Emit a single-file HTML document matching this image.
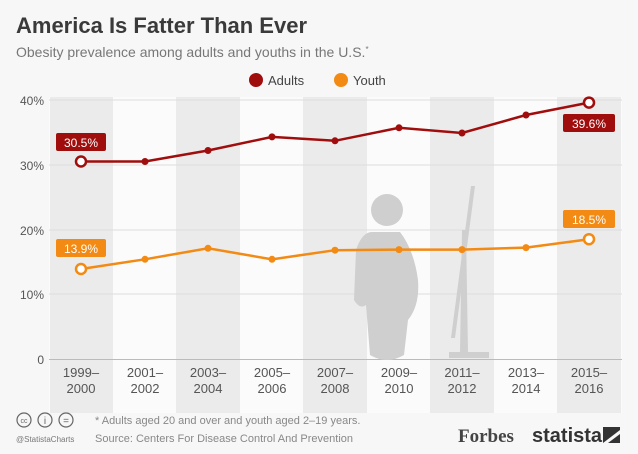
<!DOCTYPE html>
<html><head><meta charset="utf-8"><style>
html,body{margin:0;padding:0;background:#f7f7f7;}
svg{display:block;font-family:"Liberation Sans",sans-serif;}
</style></head><body>
<svg width="638" height="454" viewBox="0 0 638 454">
<rect width="638" height="454" fill="#f7f7f7"/>
<text x="16" y="33" font-size="22" font-weight="bold" fill="#3a3a3a">America Is Fatter Than Ever</text>
<text x="16" y="57" font-size="14" fill="#777">Obesity prevalence among adults and youths in the U.S.<tspan font-size="8" dy="-5">*</tspan></text>
<circle cx="256" cy="80" r="7" fill="#a00d0d"/><text x="268" y="85" font-size="13" fill="#444">Adults</text>
<circle cx="341" cy="80" r="7" fill="#f28a13"/><text x="353" y="85" font-size="13" fill="#444">Youth</text>
<!-- columns -->
<g fill="#fbfbfb"><rect x="49" y="97" width="573" height="316"/></g>
<g fill="#ebebeb">
<rect x="50" y="97" width="63" height="316"/><rect x="176" y="97" width="64" height="316"/>
<rect x="303" y="97" width="64" height="316"/><rect x="430" y="97" width="64" height="316"/>
<rect x="557" y="97" width="64" height="316"/></g>
<g stroke="#dedede" stroke-width="1">
<line x1="49" y1="100" x2="622" y2="100"/><line x1="49" y1="165" x2="622" y2="165"/>
<line x1="49" y1="230" x2="622" y2="230"/><line x1="49" y1="294" x2="622" y2="294"/></g>
<line x1="49" y1="359.5" x2="622" y2="359.5" stroke="#bbb"/>
<!-- figure -->
<g fill="#cfcfcf">
<circle cx="387" cy="210" r="16"/>
<path d="M372 232 Q362 232 356 250 L354 300 Q360 310 366 305 L370 355 Q387 365 404 355 L408 320 Q420 305 418 280 Q414 250 400 232 Z"/>
<polygon points="471,186 475,186 455,338 451,338"/>
<polygon points="462,230 466,230 468,352 460,352"/>
<rect x="449" y="352" width="40" height="6"/>
</g>
<g fill="#555" font-size="12" text-anchor="end">
<text x="44" y="105">40%</text><text x="44" y="170">30%</text><text x="44" y="235">20%</text><text x="44" y="299">10%</text><text x="44" y="364">0</text></g>
<g fill="#555" font-size="13" text-anchor="middle">
<text x="81" y="377">1999–</text><text x="81" y="393">2000</text>
<text x="145" y="377">2001–</text><text x="145" y="393">2002</text>
<text x="208" y="377">2003–</text><text x="208" y="393">2004</text>
<text x="272" y="377">2005–</text><text x="272" y="393">2006</text>
<text x="335" y="377">2007–</text><text x="335" y="393">2008</text>
<text x="399" y="377">2009–</text><text x="399" y="393">2010</text>
<text x="462" y="377">2011–</text><text x="462" y="393">2012</text>
<text x="526" y="377">2013–</text><text x="526" y="393">2014</text>
<text x="589" y="377">2015–</text><text x="589" y="393">2016</text></g>
<polyline fill="none" stroke="#a00d0d" stroke-width="2.5" points="81,161.5 145,161.5 208,150.5 272,136.9 335,140.8 399,127.8 462,133 526,115 589,102.6"/>
<polyline fill="none" stroke="#f28a13" stroke-width="2.5" points="81,269 145,259.3 208,248.3 272,259.3 335,250.2 399,249.6 462,249.6 526,247.6 589,239.2"/>
<g fill="#a00d0d"><circle cx="145" cy="161.5" r="3.5"/><circle cx="208" cy="150.5" r="3.5"/><circle cx="272" cy="136.9" r="3.5"/><circle cx="335" cy="140.8" r="3.5"/><circle cx="399" cy="127.8" r="3.5"/><circle cx="462" cy="133" r="3.5"/><circle cx="526" cy="115" r="3.5"/></g>
<g fill="#f28a13"><circle cx="145" cy="259.3" r="3.5"/><circle cx="208" cy="248.3" r="3.5"/><circle cx="272" cy="259.3" r="3.5"/><circle cx="335" cy="250.2" r="3.5"/><circle cx="399" cy="249.6" r="3.5"/><circle cx="462" cy="249.6" r="3.5"/><circle cx="526" cy="247.6" r="3.5"/></g>
<circle cx="81" cy="161.5" r="5" fill="#fff" stroke="#a00d0d" stroke-width="2.5"/>
<circle cx="589" cy="102.6" r="5" fill="#fff" stroke="#a00d0d" stroke-width="2.5"/>
<circle cx="81" cy="269" r="5" fill="#fff" stroke="#f28a13" stroke-width="2.5"/>
<circle cx="589" cy="239.2" r="5" fill="#fff" stroke="#f28a13" stroke-width="2.5"/>
<g font-size="12" fill="#fff" text-anchor="middle">
<rect x="56" y="133" width="50" height="18" rx="2" fill="#a00d0d"/><text x="81" y="147">30.5%</text>
<rect x="563" y="114" width="52" height="18" rx="2" fill="#a00d0d"/><text x="589" y="128">39.6%</text>
<rect x="56" y="239" width="50" height="18" rx="2" fill="#f28a13"/><text x="81" y="253">13.9%</text>
<rect x="563" y="210" width="52" height="18" rx="2" fill="#f28a13"/><text x="589" y="224">18.5%</text></g>
<g fill="none" stroke="#666" stroke-width="1.2"><circle cx="24" cy="420" r="7"/><circle cx="45" cy="420" r="7"/><circle cx="66" cy="420" r="7"/></g>
<text x="24" y="423" font-size="7" fill="#666" text-anchor="middle">cc</text>
<text x="45" y="424" font-size="10" fill="#666" text-anchor="middle">i</text>
<text x="66" y="424" font-size="10" fill="#666" text-anchor="middle">=</text>
<text x="16" y="442" font-size="8" fill="#777">@StatistaCharts</text>
<text x="95" y="424" font-size="11" fill="#888">* Adults aged 20 and over and youth aged 2–19 years.</text>
<text x="95" y="442" font-size="11" fill="#888">Source: Centers For Disease Control And Prevention</text>
<text x="458" y="442" font-size="19" font-weight="bold" fill="#444" font-family="Liberation Serif,serif">Forbes</text>
<text x="532" y="442" font-size="20" font-weight="bold" fill="#333" font-family="Liberation Sans Narrow,Liberation Sans,sans-serif">statista</text>
<polygon points="603,427 620,427 620,443 603,443" fill="#333"/>
<polygon points="603,443 620,430 620,434 608,443" fill="#f7f7f7"/>
</svg>
</body></html>
